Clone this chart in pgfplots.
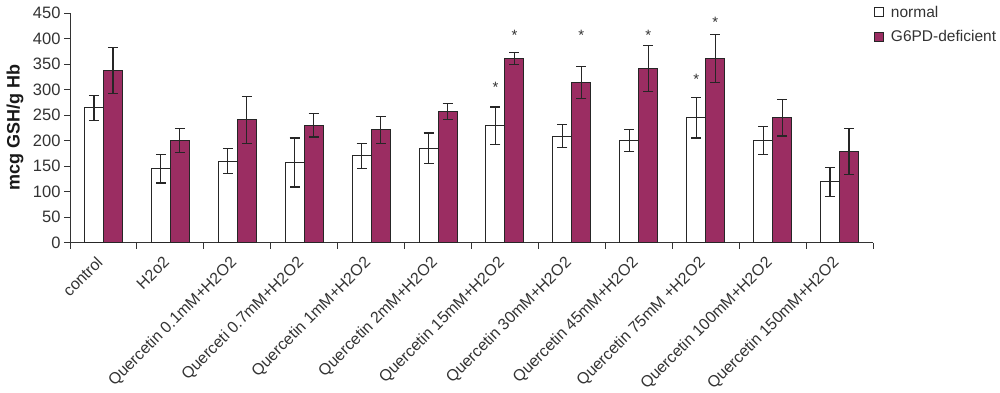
\documentclass[border=0pt]{standalone}
\usepackage{fontspec}
\setmainfont{Liberation Sans}
\usepackage{pgfplots}
\pgfplotsset{compat=1.18}
\definecolor{gp}{HTML}{9B2D62}
\definecolor{tx}{HTML}{333333}
\begin{document}
\begin{tikzpicture}
\begin{axis}[
  name=ax,
  scale only axis, width=803pt, height=229.7pt,
  ymin=0, ymax=450, xmin=-0.5, xmax=11.5,
  ybar=0pt, bar width=19pt,
  ytick={0,50,...,450},
  axis lines*=left,
  axis line style={-, line width=0.9pt, black!80},
  tick align=outside, major tick length=6pt, minor tick length=6pt,
  tick style={line width=0.9pt, black!80},
  every major x tick/.append style={draw=none},
  xtick={0,...,11},
  minor xtick={-0.5,0.5,...,11.5},
  xticklabels={control, H2o2, Quercetin 0.1mM+H2O2, Querceti 0.7mM+H2O2, Quercetin 1mM+H2O2, Quercetin 2mM+H2O2, Quercetin 15mM+H2O2, Quercetin 30mM+H2O2, Quercetin 45mM+H2O2, Quercetin 75mM +H2O2, Quercetin 100mM+H2O2, Quercetin 150mM+H2O2},
  xticklabel style={xshift=-8pt, yshift=-5pt, rotate=45, anchor=north east, font=\fontsize{16}{19}\selectfont, text=tx, inner sep=1pt},
  yticklabel style={font=\fontsize{16.5}{19}\selectfont, text=tx},
  /pgf/number format/assume math mode=true,
  ylabel={mcg GSH/g Hb},
  ylabel style={at={(axis description cs:-0.0685,0.5)}, anchor=center, font=\bfseries\fontsize{18}{21}\selectfont, text=black!90},
  legend style={at={(1.001,1.04)}, anchor=north west, draw=none, fill=none, font=\fontsize{15.5}{18}\selectfont, text=tx, row sep=8pt, inner sep=0pt},
  legend cell align=left,
  legend image code/.code={\draw[#1, line width=0.9pt] (0pt,-4.5pt) rectangle (9pt,4.5pt); \path (14pt,0pt);},
  error bars/error bar style={line width=1.2pt, black!85},
  error bars/error mark options={rotate=90, mark size=5pt, line width=1.2pt, black!85},
]
\addplot[bar shift=-9.5pt, fill=white, draw=black!85, line width=1pt, error bars/.cd, y dir=both, y explicit] coordinates {
(0,264) +- (0,25)
(1,145) +- (0,28)
(2,160) +- (0,25)
(3,157) +- (0,48)
(4,170) +- (0,24)
(5,185) +- (0,30)
(6,229) +- (0,37)
(7,209) +- (0,22)
(8,200) +- (0,21)
(9,245) +- (0,40)
(10,200) +- (0,27)
(11,119) +- (0,29)
};
\addlegendentry{normal}
\addplot[bar shift=9.5pt, fill=gp, draw=black!85, line width=1pt, error bars/.cd, y dir=both, y explicit] coordinates {
(0,338) +- (0,45)
(1,200) +- (0,24)
(2,241) +- (0,46)
(3,230) +- (0,23)
(4,221) +- (0,27)
(5,257) +- (0,15)
(6,361) +- (0,12)
(7,314) +- (0,31)
(8,341) +- (0,45)
(9,361) +- (0,47)
(10,245) +- (0,36)
(11,179) +- (0,45)
};
\addlegendentry{G6PD-deficient}
\addplot[sharp plot, bar shift=0pt, draw=none, mark=none, forget plot, nodes near coords={*}, every node near coord/.append style={anchor=center, font=\fontsize{15}{18}\selectfont, text=tx, inner sep=0pt}] coordinates {
(5.858,305) (6.142,407) (7.142,407) (8.142,407) (8.858,320) (9.142,432)
};
\end{axis}
\pgfresetboundingbox
\path[use as bounding box] ([shift={(-70pt,-150.3pt)}]ax.south west) rectangle ([shift={(127pt,13pt)}]ax.north east);
\end{tikzpicture}
\end{document}
